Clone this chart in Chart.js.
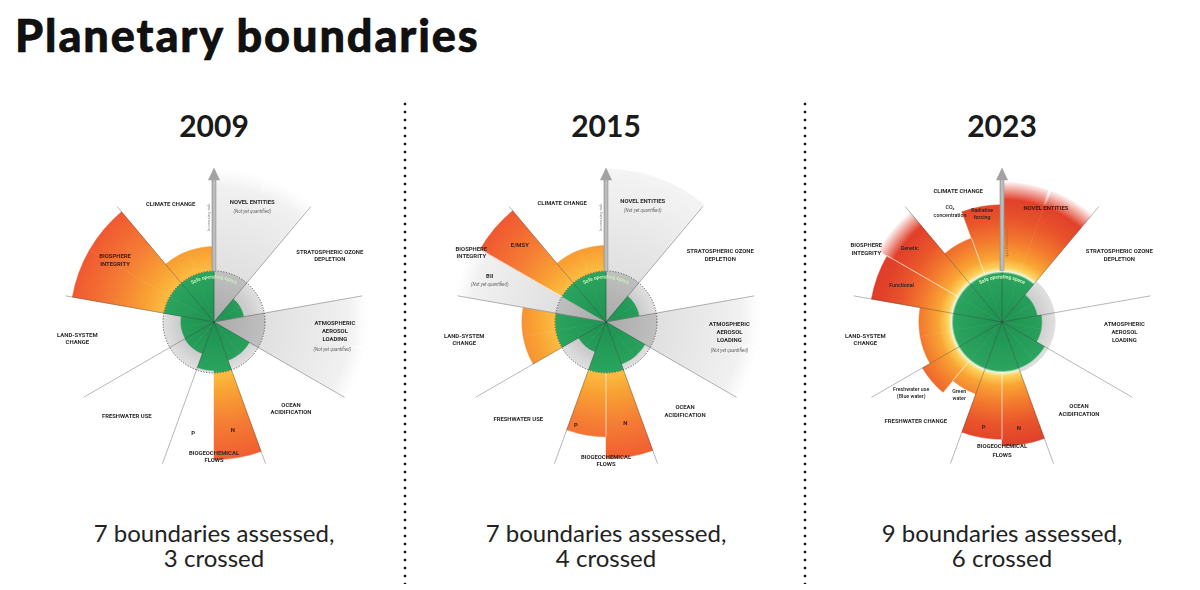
<!DOCTYPE html>
<html>
<head>
<meta charset="utf-8">
<title>Planetary boundaries</title>
<script src="https://cdn.jsdelivr.net/npm/chart.js@4.4.1/dist/chart.umd.min.js"></script>
<style>
  html, body { margin: 0; padding: 0; background: #fff; }
  body { width: 1200px; height: 590px; position: relative; overflow: hidden; font-family: Lato, 'Noto Sans', sans-serif; color: #111; }
  h1 { position: absolute; left: 15px; top: 13px; margin: 0; font-size: 45px; line-height: 45px; font-weight: 900;
       letter-spacing: 1.9px; -webkit-text-stroke: 0.6px #000; }
  .year { position: absolute; top: 110px; width: 300px; margin-left: -150px; text-align: center; font-size: 30px; line-height: 30px; font-weight: 700; color: #1a1a1a; }
  .caption { position: absolute; top: 520px; width: 380px; margin-left: -190px; text-align: center; font-size: 24px; line-height: 25px; color: #222; }
  .sep { position: absolute; top: 100px; width: 4px; height: 484px; margin-left: -2px;
         background: radial-gradient(circle, #1a1a1a 1.2px, transparent 1.7px) 0 0 / 4px 8px repeat-y; }
  canvas { position: absolute; top: 127px; }
</style>
</head>
<body>
<h1>Planetary boundaries</h1>
<div class="sep" style="left:405px"></div>
<div class="sep" style="left:805px"></div>
<div id="panels"></div>

<script>
const R_MAX = 3;   // outer edge of the diagram, in units of the safe boundary

const years = ['2009', '2015', '2023'];
const assessed = [7, 7, 9];
const crossed = [3, 4, 6];

// each boundary takes two 20 degree halves, clockwise from 12 o'clock
const halves = [
  'Novel entities', 'Novel entities',
  'Stratospheric ozone depletion', 'Stratospheric ozone depletion',
  'Atmospheric aerosol loading', 'Atmospheric aerosol loading',
  'Ocean acidification', 'Ocean acidification',
  'Biogeochemical flows: N', 'Biogeochemical flows: P',
  'Freshwater: green water', 'Freshwater: blue water',
  'Land-system change', 'Land-system change',
  'Biosphere integrity: functional (BII)', 'Biosphere integrity: genetic (E/MSY)',
  'Climate change: CO2 concentration', 'Climate change: radiative forcing'
];

// control variable relative to the boundary (1 = boundary); null = not yet quantified
const values2009 = [null, null, 0.59, 0.59, null, null, 0.8, 0.8, 2.7, 0.95, 0.66, 0.66, 0.65, 0.65, 2.82, 2.82, 1.48, 1.48];
const values2015 = [null, null, 0.66, 0.66, null, null, 0.88, 0.88, 2.68, 2.25, 0.62, 0.62, 1.65, 1.65, null, 2.85, 1.5, 1.5];
const values2023 = [2.75, 2.75, 0.7, 0.7, 0.78, 0.78, 0.97, 0.97, 2.43, 2.3, 1.5, 1.8, 1.63, 1.63, 2.6, 2.8, 1.75, 2.3];

// halves drawn with a soft outer edge (off the scale, or not quantified)
const softEdge2009 = [0, 1, 4, 5];
const softEdge2015 = [4, 5, 14];
const softEdge2023 = [0, 1, 15];

const GREY_STOPS = [[0, '#a9a9a9'], [0.99, '#bfbfbf'], [1.0, '#e0e0e0'], [2.0, '#eaeaea'], [3, '#f4f4f4']];
const WARM_OLD = [[0, '#1e9150'], [0.985, '#2aa45f'], [1.0, '#fbbd42'], [1.4, '#f9a133'], [2.0, '#f57d35'],
                  [2.5, '#f26632'], [3, '#ee5230']];
const WARM_NEW = [[0, '#1e9150'], [0.95, '#2aa45f'], [0.99, '#eef6dc'], [1.06, '#fdd35c'], [1.25, '#f9a535'],
                  [1.6, '#f37a2e'], [2.0, '#e9552b'], [2.4, '#e1412a'], [3, '#db3527']];

const LABEL_STYLES = {
  cap:   { font: '700 5.9px Roboto', color: '#2b2b2b' },
  note:  { font: 'italic 4.5px Roboto', color: '#666' },
  inner: { font: '700 5.9px Roboto', color: '#3d1a0e' },
  sub:   { font: '500 5.3px Roboto', color: '#222' }
};

const labels2009 = [
  ['CLIMATE CHANGE', -0.85, -2.30], ['NOVEL ENTITIES', 0.75, -2.34], ['(Not yet quantified)', 0.75, -2.16, 'note'],
  ['STRATOSPHERIC OZONE', 2.27, -1.37], ['DEPLETION', 2.27, -1.23],
  ['ATMOSPHERIC', 2.37, 0.03], ['AEROSOL', 2.37, 0.19], ['LOADING', 2.37, 0.35], ['(Not yet quantified)', 2.32, 0.54, 'note'],
  ['OCEAN', 1.51, 1.63], ['ACIDIFICATION', 1.51, 1.77],
  ['BIOGEOCHEMICAL', 0, 2.58], ['FLOWS', 0, 2.72], ['P', -0.41, 2.18], ['N', 0.37, 2.12, 'inner'],
  ['FRESHWATER USE', -1.71, 1.86], ['LAND-SYSTEM', -2.68, 0.26], ['CHANGE', -2.68, 0.40],
  ['BIOSPHERE', -1.94, -1.29, 'inner'], ['INTEGRITY', -1.94, -1.13, 'inner']
];
const labels2015 = [
  ['CLIMATE CHANGE', -0.86, -2.33], ['NOVEL ENTITIES', 0.72, -2.36], ['(Not yet quantified)', 0.72, -2.18, 'note'],
  ['STRATOSPHERIC OZONE', 2.24, -1.38], ['DEPLETION', 2.24, -1.23],
  ['ATMOSPHERIC', 2.42, 0.04], ['AEROSOL', 2.42, 0.2], ['LOADING', 2.42, 0.36], ['(Not yet quantified)', 2.42, 0.56, 'note'],
  ['OCEAN', 1.55, 1.68], ['ACIDIFICATION', 1.55, 1.83],
  ['BIOGEOCHEMICAL', 0, 2.65], ['FLOWS', 0, 2.8], ['P', -0.59, 2.03, 'inner'], ['N', 0.38, 1.99, 'inner'],
  ['FRESHWATER USE', -1.72, 1.91], ['LAND-SYSTEM', -2.78, 0.28], ['CHANGE', -2.78, 0.43],
  ['BIOSPHERE', -2.64, -1.43], ['INTEGRITY', -2.64, -1.28], ['E/MSY', -1.69, -1.49, 'inner'],
  ['BII', -2.28, -0.9], ['(Not yet quantified)', -2.28, -0.73, 'note']
];
const labels2023 = [
  ['CLIMATE CHANGE', -0.86, -2.55], ['CO₂', -1.02, -2.24, 'sub'], ['concentration', -1.02, -2.08, 'sub'],
  ['Radiative', -0.39, -2.19, 'sub'], ['forcing', -0.39, -2.05, 'sub'], ['NOVEL ENTITIES', 0.86, -2.22, 'inner'],
  ['STRATOSPHERIC OZONE', 2.3, -1.38], ['DEPLETION', 2.3, -1.23],
  ['ATMOSPHERIC', 2.4, 0.05], ['AEROSOL', 2.4, 0.21], ['LOADING', 2.4, 0.37],
  ['OCEAN', 1.51, 1.66], ['ACIDIFICATION', 1.51, 1.82],
  ['BIOGEOCHEMICAL', 0, 2.45], ['FLOWS', 0, 2.61], ['P', -0.36, 2.06, 'inner'], ['N', 0.33, 2.09, 'inner'],
  ['FRESHWATER CHANGE', -1.69, 1.96], ['Freshwater use', -1.78, 1.32, 'sub'], ['(Blue water)', -1.78, 1.46, 'sub'],
  ['Green', -0.84, 1.37, 'sub'], ['water', -0.84, 1.5, 'sub'],
  ['LAND-SYSTEM', -2.68, 0.28], ['CHANGE', -2.68, 0.43],
  ['BIOSPHERE', -2.66, -1.49], ['INTEGRITY', -2.66, -1.35],
  ['Genetic', -1.81, -1.44, 'sub'], ['Functional', -1.97, -0.72, 'sub']
];

const centers = [214, 606, 1002];
const LOOKS = {
  c2009: { warm: WARM_OLD, globe: 1.0, dashed: true, splits: [], soft: softEdge2009, labels: labels2009,
           risk: { side: -1, at: 2.05, color: '#8f8f8f' }, safe: '#c9efb6' },
  c2015: { warm: WARM_OLD, globe: 1.0, dashed: true, splits: [9, 15], soft: softEdge2015, labels: labels2015,
           risk: { side: -1, at: 2.05, color: '#8f8f8f' }, safe: '#c9efb6' },
  c2023: { warm: WARM_NEW, globe: 1.05, dashed: false, splits: [9, 11, 15, 17], soft: softEdge2023, labels: labels2023,
           risk: { side: 1, at: 1.55, color: 'rgba(150,105,70,0.75)' }, safe: '#d6f7c4' }
};

function radial(ctx, s, stops) {
  const g = ctx.createRadialGradient(s.xCenter, s.yCenter, 0, s.xCenter, s.yCenter, s.drawingArea);
  stops.forEach(([v, c]) => g.addColorStop(Math.min(v / R_MAX, 1), c));
  return g;
}

const decor = {
  id: 'decor',
  beforeDatasetsDraw(chart) {
    const o = LOOKS[chart.canvas.id];
    const s = chart.scales.r, ctx = chart.ctx, u = s.drawingArea / R_MAX;
    ctx.save();
    const g = ctx.createRadialGradient(s.xCenter, s.yCenter, 0, s.xCenter, s.yCenter, u * o.globe);
    g.addColorStop(0, '#b4b4b4');
    g.addColorStop(0.7, '#cdcdcd');
    g.addColorStop(1, '#e0e0e0');
    ctx.fillStyle = g;
    ctx.beginPath();
    ctx.arc(s.xCenter, s.yCenter, u * o.globe, 0, Math.PI * 2);
    ctx.fill();
    ctx.restore();
  },
  afterDatasetsDraw(chart) {
    const o = LOOKS[chart.canvas.id];
    const s = chart.scales.r, ctx = chart.ctx;
    const cx = s.xCenter, cy = s.yCenter, u = s.drawingArea / R_MAX;
    const arcs = chart.getDatasetMeta(0).data;
    ctx.save();

    // soft outer edge
    o.soft.forEach(i => {
      const a = arcs[i], r1 = a.outerRadius, r0 = r1 - 0.35 * u;
      const g = ctx.createRadialGradient(cx, cy, r0, cx, cy, r1 + 1);
      g.addColorStop(0, 'rgba(255,255,255,0)');
      g.addColorStop(1, 'rgba(255,255,255,1)');
      ctx.fillStyle = g;
      ctx.beginPath();
      ctx.arc(cx, cy, r1 + 1.5, a.startAngle - 0.01, a.endAngle + 0.01);
      ctx.arc(cx, cy, r0, a.endAngle + 0.01, a.startAngle - 0.01, true);
      ctx.closePath();
      ctx.fill();
    });

    // thin white lines between sub-boundaries
    ctx.strokeStyle = 'rgba(255,255,255,0.8)';
    ctx.lineWidth = 0.8;
    o.splits.forEach(i => {
      const r = Math.min(arcs[i - 1].outerRadius, arcs[i].outerRadius);
      const p0 = s.getPointPosition(i, u), p1 = s.getPointPosition(i, r);
      ctx.beginPath(); ctx.moveTo(p0.x, p0.y); ctx.lineTo(p1.x, p1.y); ctx.stroke();
    });

    // safe boundary
    if (o.dashed) {
      ctx.strokeStyle = '#4a4a4a';
      ctx.lineWidth = 0.9;
      ctx.setLineDash([1.2, 1.6]);
      ctx.beginPath(); ctx.arc(cx, cy, u, 0, Math.PI * 2); ctx.stroke();
      ctx.setLineDash([]);
    }

    // spokes between the nine boundaries
    ctx.strokeStyle = 'rgba(50,50,50,0.5)';
    ctx.lineWidth = 0.7;
    for (let i = 0; i < halves.length; i += 2) {
      const p = s.getPointPosition(i, s.getDistanceFromCenterForValue(R_MAX) * 0.985);
      ctx.beginPath(); ctx.moveTo(cx, cy); ctx.lineTo(p.x, p.y); ctx.stroke();
    }

    // "increasing risk" arrow along the first spoke
    ctx.save();
    ctx.translate(cx, cy);
    ctx.rotate(s.getIndexAngle(0));
    const sg = ctx.createLinearGradient(-2.5, 0, 2.5, 0);
    sg.addColorStop(0, '#8e8e8e'); sg.addColorStop(0.5, '#c6c6c6'); sg.addColorStop(1, '#9c9c9c');
    ctx.fillStyle = sg;
    ctx.fillRect(-2.3, -u * 2.8, 4.6, u * 1.8);
    ctx.fillStyle = '#a2a2a2';
    ctx.beginPath();
    ctx.moveTo(-6, -u * 2.78); ctx.lineTo(6, -u * 2.78); ctx.lineTo(0, -u * 3.03); ctx.closePath();
    ctx.fill();
    ctx.translate(o.risk.side * 5.2, -u * o.risk.at);
    ctx.rotate(o.risk.side * Math.PI / 2);
    ctx.font = '4.3px Roboto';
    ctx.fillStyle = o.risk.color;
    ctx.textAlign = 'center';
    ctx.textBaseline = 'middle';
    ctx.fillText('Increasing risk', 0, 0);
    ctx.restore();

    // curved "Safe operating space"
    ctx.font = '700 5px Roboto';
    ctx.fillStyle = o.safe;
    ctx.textAlign = 'center';
    ctx.textBaseline = 'middle';
    const text = 'Safe operating space', rr = u * 0.88;
    let ang = -ctx.measureText(text).width / (2 * rr);
    for (const ch of text) {
      const w = ctx.measureText(ch).width, a = ang + w / (2 * rr);
      ctx.save();
      ctx.translate(cx + rr * Math.sin(a), cy - rr * Math.cos(a));
      ctx.rotate(a);
      ctx.fillText(ch, 0, 0);
      ctx.restore();
      ang += w / rr;
    }

    // boundary names
    o.labels.forEach(([t, x, y, st]) => {
      const f = LABEL_STYLES[st || 'cap'];
      ctx.font = f.font;
      ctx.fillStyle = f.color;
      ctx.fillText(t, cx + x * u, cy + y * u);
    });
    ctx.restore();
  }
};

function drawPanel(id, values) {
  const look = LOOKS[id];
  const shown = values.map(v => (v === null ? R_MAX : v));
  const fill = (c) => {
    const chart = c.chart, s = chart.scales.r;
    if (!s || !s.drawingArea) return 'transparent';
    const key = s.xCenter + ',' + s.yCenter + ',' + s.drawingArea;
    if (chart.$fillKey !== key) {
      chart.$fillKey = key;
      chart.$warm = radial(chart.ctx, s, look.warm);
      chart.$grey = radial(chart.ctx, s, GREY_STOPS);
    }
    return values[c.dataIndex] === null ? chart.$grey : chart.$warm;
  };
  return new Chart(document.getElementById(id), {
    type: 'polarArea',
    data: {
      labels: halves,
      datasets: [{ data: shown, backgroundColor: fill, borderColor: fill, borderWidth: 0.5 }]
    },
    options: {
      responsive: false,
      animation: false,
      events: [],
      layout: { padding: 42 },
      scales: {
        r: {
          min: 0, max: R_MAX, startAngle: 0,
          ticks: { display: false },
          grid: { display: false },
          angleLines: { display: false },
          pointLabels: { display: false }
        }
      },
      plugins: { legend: { display: false }, tooltip: { enabled: false } }
    },
    plugins: [decor]
  });
}

const panels = document.getElementById('panels');
years.forEach((y, i) => {
  const cx = centers[i];
  panels.insertAdjacentHTML('beforeend',
    `<div class="year" style="left:${cx}px">${y}</div>` +
    `<canvas id="c${y}" width="390" height="390" style="left:${cx - 195}px"></canvas>` +
    `<div class="caption" style="left:${cx}px">${assessed[i]} boundaries assessed,<br>${crossed[i]} crossed</div>`);
});

drawPanel('c2009', values2009);
drawPanel('c2015', values2015);
drawPanel('c2023', values2023);
</script>
</body>
</html>
